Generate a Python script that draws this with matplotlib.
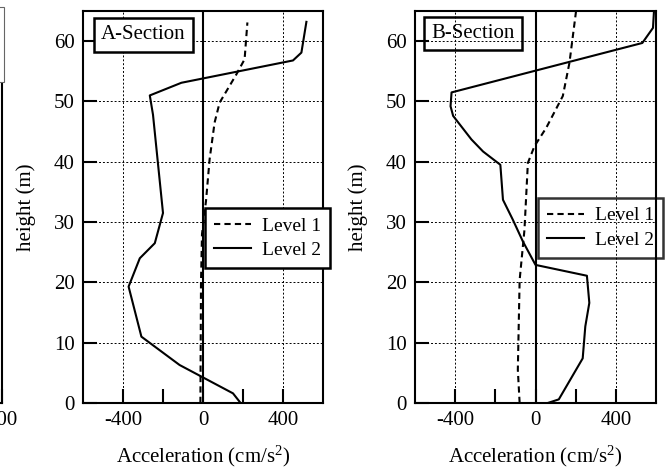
import matplotlib
matplotlib.use("Agg")
import matplotlib.pyplot as plt
from matplotlib.patches import Rectangle

plt.rcParams["font.family"] = "Liberation Serif"
plt.rcParams["mathtext.fontset"] = "custom"
plt.rcParams["mathtext.rm"] = "Liberation Serif"
plt.rcParams["mathtext.it"] = "Liberation Serif:italic"
plt.rcParams["axes.unicode_minus"] = False

# A-Section, values (acceleration cm/s^2, height m)
a_lev2_acc = [188, 150, -117, -308, -372, -316, -241, -200, -250, -266, -108, 450, 492, 517]
a_lev2_h = [0, 1.6, 6.3, 11.0, 19.3, 24.0, 26.5, 31.5, 47.8, 51.0, 53.1, 56.8, 58.1, 63.2]
a_lev1_acc = [-13, -10, -5, 15, 33, 58, 83, 167, 208, 222]
a_lev1_h = [0, 20, 28, 33.5, 40.4, 46.5, 49.8, 54.5, 57.0, 63.1]

# B-Section
b_lev2_acc = [61, 116, 235, 248, 268, 256, 0, -63, -113, -162, -175, -261, -319, -410, -423, -418, 532, 585, 590]
b_lev2_h = [0, 0.6, 7.4, 12.7, 16.6, 21.1, 22.9, 26.8, 30.4, 33.7, 39.5, 41.7, 43.7, 47.6, 49.2, 51.5, 59.7, 62.2, 65.0]
b_lev1_acc = [-79, -88, -79, -55, -38, -5, 53, 136, 169, 202]
b_lev1_h = [0, 5.5, 20.4, 28.7, 39.8, 42.6, 45.6, 50.9, 56.4, 65.0]

W, H = 665, 468
fig = plt.figure(figsize=(W / 100, H / 100), dpi=100)


def px_axes(x0, x1, y0, y1):
    return fig.add_axes([x0 / W, (H - y1) / H, (x1 - x0) / W, (y1 - y0) / H])


def style(ax, xlim=(-600, 600)):
    ax.set_xlim(*xlim)
    ax.set_ylim(0, 65)
    ax.set_xticks([-400, 0, 400])
    ax.set_xticks([-200, 200], minor=True)
    ax.set_yticks(range(0, 70, 10))
    ax.tick_params(which="both", direction="in", length=10, width=1.5,
                   top=False, right=False, labelsize=15, pad=6)
    for s in ax.spines.values():
        s.set_linewidth(1.5)
    ax.axvline(0, color="black", lw=1.5)


# partial panel on the far left (cropped by the picture edge)
ax0 = px_axes(2.5 - 240, 2.5, 11, 403)
style(ax0, xlim=(-400, 400))
ax0.set_xticklabels(["", "", "400"])
ax0.tick_params(labelleft=False)
ax0.add_patch(Rectangle((0.6, (403 - 82) / 392), 0.405, 1.01 - (403 - 82) / 392,
                        transform=ax0.transAxes, fc="white", ec="0.4", lw=0.8,
                        clip_on=False, zorder=10))

dash = (0, (3, 2))
leg_kw = dict(loc="upper left", borderaxespad=0, fancybox=False, edgecolor="black",
              fontsize=14, handlelength=1.9, handletextpad=0.6, borderpad=0.45,
              labelspacing=0.35)
xlab = r"Acceleration (cm/s$^{\mathrm{2}}$)"

# A-Section
axA = px_axes(83, 323, 11, 403)
style(axA)
axA.grid(True, which="major", ls=(0, (2, 2)), lw=0.7, color="black")
axA.plot(a_lev1_acc, a_lev1_h, color="black", lw=1.5, ls=dash, label="Level 1")
axA.plot(a_lev2_acc, a_lev2_h, color="black", lw=1.5, label="Level 2")
axA.set_ylabel("height (m)", fontsize=15, labelpad=13)
axA.set_xlabel(xlab, fontsize=15, labelpad=10)
axA.text(0.252, 0.939, "A-Section", transform=axA.transAxes, fontsize=15,
         ha="center", va="center", zorder=6,
         bbox=dict(boxstyle="square,pad=0.35", fc="white", ec="black", lw=1.8))
legA = axA.legend(bbox_to_anchor=(0.508, 0.497), framealpha=1, **leg_kw)
legA.get_frame().set_linewidth(1.8)

# B-Section
axB = px_axes(415, 656, 11, 403)
style(axB)
axB.grid(True, which="major", ls=(0, (2, 2)), lw=0.7, color="black")
axB.plot(b_lev1_acc, b_lev1_h, color="black", lw=1.5, ls=dash, label="Level 1")
axB.plot(b_lev2_acc, b_lev2_h, color="black", lw=1.5, label="Level 2")
axB.set_ylabel("height (m)", fontsize=15, labelpad=13)
axB.set_xlabel(xlab, fontsize=15, labelpad=10)
axB.text(0.239, 0.943, "B-Section", transform=axB.transAxes, fontsize=15,
         ha="center", va="center",
         bbox=dict(boxstyle="square,pad=0.35", fc="none", ec="black", lw=1.8))
legB = axB.legend(bbox_to_anchor=(0.510, 0.523), facecolor="none", framealpha=None, **leg_kw)
legB.get_frame().set_linewidth(1.8)
legB.set_zorder(2)

fig.savefig("out.png", dpi=100)
